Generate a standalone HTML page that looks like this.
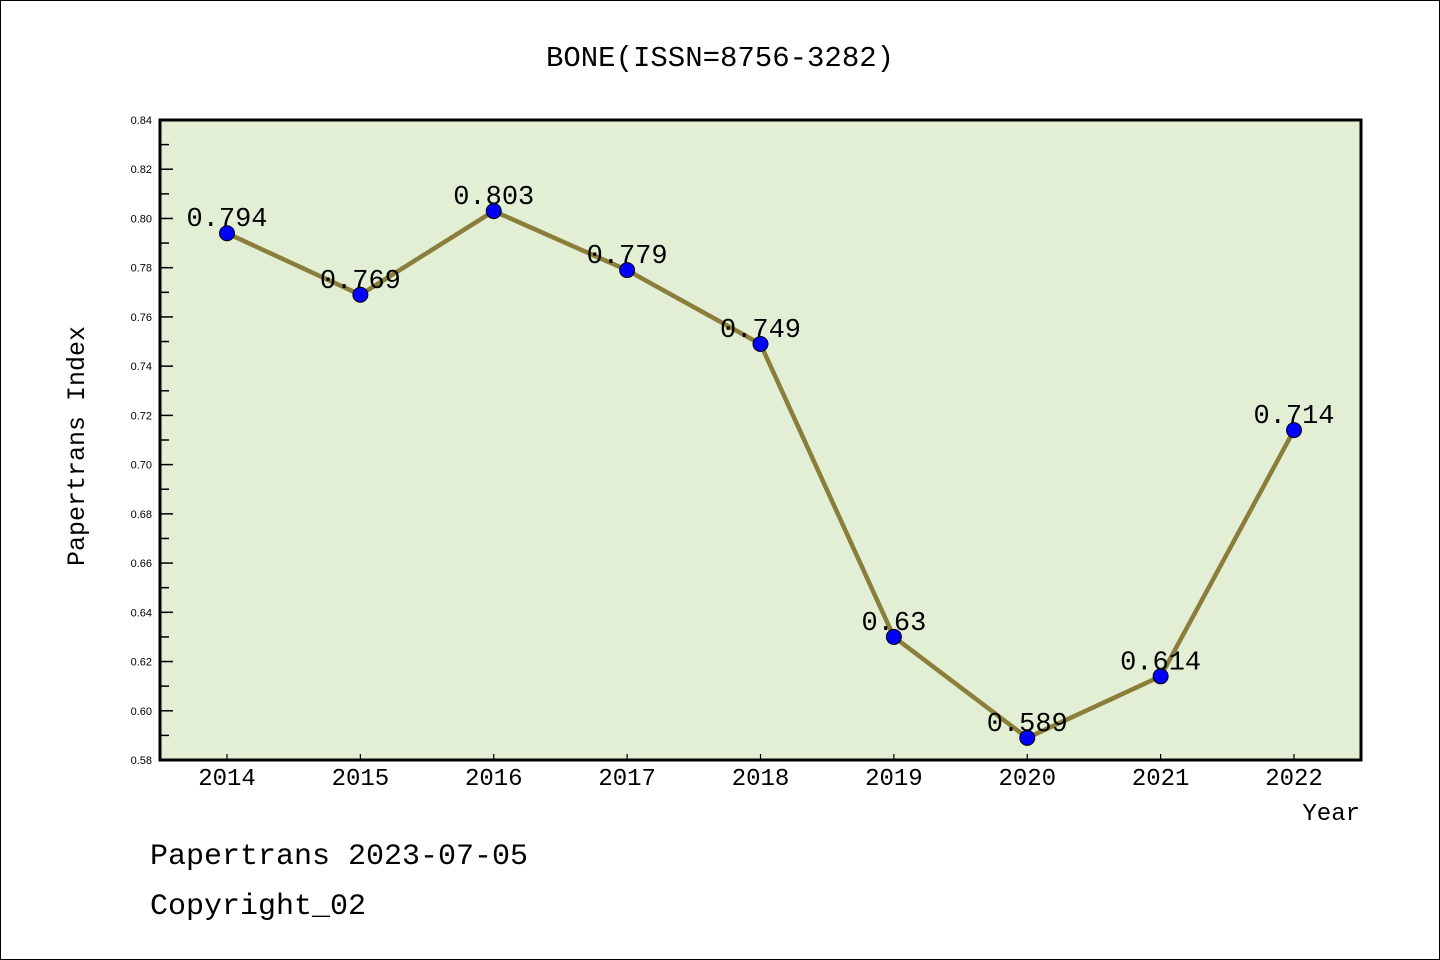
<!DOCTYPE html>
<html><head><meta charset="utf-8"><style>
html,body{margin:0;padding:0;background:#fff}
svg{display:block}
text{font-family:"Liberation Mono",monospace}
text.tk{font-family:"Liberation Sans",sans-serif}
</style></head><body>
<svg id="c" width="1440" height="960" xmlns="http://www.w3.org/2000/svg">
<rect x="0.5" y="0.5" width="1439" height="959" fill="#fff" stroke="#000"/>
<text x="720" y="66" text-anchor="middle" font-size="29">BONE(ISSN=8756-3282)</text>
<rect x="160" y="120" width="1201" height="640" fill="#e2efd5"/>
<g id="ticks"></g>
<g id="marks"></g>
<rect x="160" y="120" width="1201" height="640" fill="none" stroke="#000" stroke-width="3"/>
<text transform="translate(84,446) rotate(-90)" text-anchor="middle" font-size="25">Papertrans Index</text>
<text x="1360" y="820" text-anchor="end" font-size="24">Year</text>
<text x="150" y="864" font-size="30">Papertrans 2023-07-05</text>
<text x="150" y="914" font-size="30">Copyright_02</text>
</svg>
<script>
const years=["2014","2015","2016","2017","2018","2019","2020","2021","2022"];
const values=[0.794,0.769,0.803,0.779,0.749,0.63,0.589,0.614,0.714];
const labels=["0.794","0.769","0.803","0.779","0.749","0.63","0.589","0.614","0.714"];
const yTicks=["0.58","0.60","0.62","0.64","0.66","0.68","0.70","0.72","0.74","0.76","0.78","0.80","0.82","0.84"];
const yMin=0.58,yMax=0.84;
const NS="http://www.w3.org/2000/svg";
function X(i){return 227+i*(1294-227)/(years.length-1);}
function Y(v){return 760-(v-yMin)/(yMax-yMin)*640;}
function el(t,a,p){const e=document.createElementNS(NS,t);for(const k in a)e.setAttribute(k,a[k]);p.appendChild(e);return e;}
const tg=document.getElementById('ticks'),mg=document.getElementById('marks');
yTicks.forEach(t=>{const v=parseFloat(t),y=Y(v);
 const l=el('line',{x1:160,x2:173,y1:y,y2:y,stroke:'#000','stroke-width':1.5},tg);
 
 
 const tx=el('text',{x:152,y:y+4,'text-anchor':'end','font-size':11,'class':'tk'},tg);tx.textContent=t;
 
 
 if(v+0.01<yMax){const ym=Y(v+0.01);
  const m=el('line',{x1:160,x2:169,y1:ym,y2:ym,stroke:'#000','stroke-width':1.5},tg);
  
  }
});
years.forEach((yr,i)=>{const x=X(i);
 const l=el('line',{x1:x,x2:x,y1:760,y2:754,stroke:'#000','stroke-width':1.2},tg);
 
 
 const t=el('text',{x:x,y:785,'text-anchor':'middle','font-size':24},tg);t.textContent=yr;
 
 
});
const pl=el('polyline',{points:values.map((v,i)=>X(i)+','+Y(v)).join(' '),fill:'none',stroke:'#8b7d3a','stroke-width':4.5},mg);


values.forEach((v,i)=>{
 const c=el('circle',{cx:X(i),cy:Y(v),r:7.5,fill:'#0000ff',stroke:'#000','stroke-width':1},mg);
 
 
 const t=el('text',{x:X(i),y:Y(v)-7,'text-anchor':'middle','font-size':27},mg);t.textContent=labels[i];
 
 
});
</script>
</body></html>
